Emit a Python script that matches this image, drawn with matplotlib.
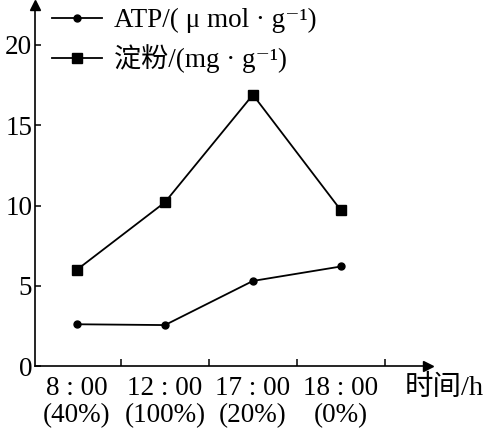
import matplotlib
matplotlib.use("Agg")
import matplotlib.pyplot as plt

times = ["8 : 00", "12 : 00", "17 : 00", "18 : 00"]
light = ["(40%)", "(100%)", "(20%)", "(0%)"]
atp = [2.6, 2.55, 5.3, 6.2]
starch = [6.0, 10.2, 16.9, 9.7]
yticks = [0, 5, 10, 15, 20]

FAM = ["Liberation Serif", "Noto Sans CJK SC", "DejaVu Serif"]
plt.rcParams["font.family"] = FAM
FS = 19.5

W, H = 487, 433
fig = plt.figure(figsize=(W / 100, H / 100), dpi=100)
left, right, bottom, top = 35, 428, 366, 5
ax = fig.add_axes([left / W, (H - bottom) / H, (right - left) / W, (bottom - top) / H])

x = list(range(len(times)))
ax.plot(x, atp, "-o", color="black", lw=1.3, ms=5, label="ATP/( μ mol · g⁻¹)")
ax.plot(x, starch, "-s", color="black", lw=1.3, ms=7.5, label="淀粉/(mg · g⁻¹)")

ax.set_xlim(-0.477, 3.99)
ax.set_ylim(0, (bottom - top) / 16.05)

for s in ["top", "right"]:
    ax.spines[s].set_visible(False)
for s in ["left", "bottom"]:
    ax.spines[s].set_linewidth(1.2)

ax.set_yticks(yticks)
ax.set_yticklabels([str(v) for v in yticks], fontsize=FS)
ax.tick_params(axis="y", direction="in", length=4, width=1.1, pad=2)

ax.set_xticks(x)
ax.set_xticklabels([f"{t}\n{l}" for t, l in zip(times, light)], fontsize=FS, linespacing=1.1)
ax.set_xticks([0.5, 1.5, 2.5, 3.5], minor=True)
ax.tick_params(axis="x", which="major", length=0, pad=7)
ax.tick_params(axis="x", which="minor", direction="in", length=5, width=1.1)

# arrows
ax.plot(1, 0, ">", color="black", ms=7, transform=ax.transAxes, clip_on=False)
ax.plot(0, 1, "^", color="black", ms=7, transform=ax.transAxes, clip_on=False)

fig.text(405 / W, 1 - 388 / H, "时间/h", fontsize=FS + 1, ha="left", va="center")

leg = ax.legend(loc="upper left", bbox_to_anchor=(52 / W, 1 - 8 / H), bbox_transform=fig.transFigure,
                frameon=False, fontsize=FS, handlelength=1.85, handletextpad=0.45,
                labelspacing=0.42, borderpad=0, borderaxespad=0)

fig.savefig("out.png", dpi=100)
